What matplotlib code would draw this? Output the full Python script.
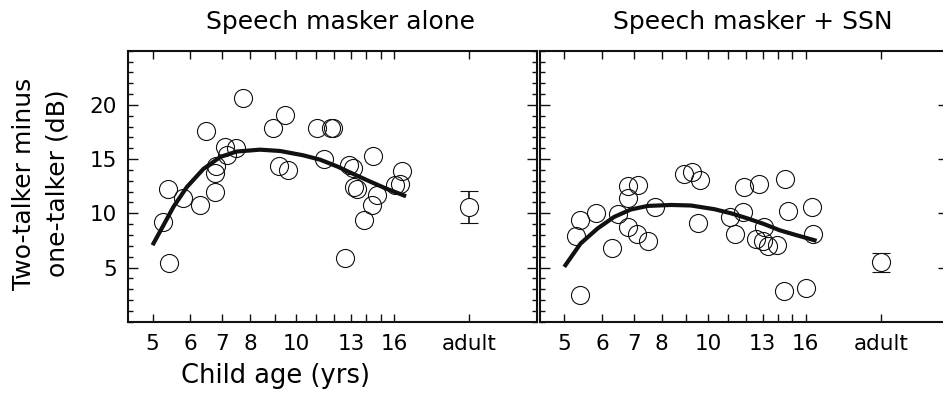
import matplotlib
matplotlib.use("Agg")
import matplotlib.pyplot as plt
from matplotlib.ticker import FixedLocator, NullLocator, MultipleLocator

# child data, speech masker alone
alone_age = [5.27, 5.38, 5.40, 5.80, 6.27, 6.47, 6.76, 6.76, 6.78, 7.10, 7.17,
             7.48, 7.72, 8.91, 9.21, 9.46, 9.61, 11.03, 11.39, 11.80, 11.93,
             12.66, 12.86, 13.12, 13.22, 13.37, 13.87, 14.37, 14.48, 14.72,
             16.07, 16.45, 16.58]
alone_db = [9.2, 12.2, 5.4, 11.4, 10.8, 17.6, 12.0, 13.7, 14.4, 16.1, 15.4,
            16.0, 20.6, 17.9, 14.4, 19.1, 14.0, 17.9, 15.0, 17.9, 17.9,
            5.9, 14.5, 14.2, 12.4, 12.2, 9.4, 10.8, 15.3, 11.7,
            12.6, 12.7, 13.9]

# child data, speech masker + SSN
ssn_age = [5.29, 5.39, 5.40, 5.82, 6.28, 6.48, 6.78, 6.78, 6.78, 7.14, 7.11,
           7.49, 7.74, 8.91, 9.25, 9.60, 9.50, 11.1, 11.4, 11.9, 11.85,
           12.78, 12.6, 13.1, 13.0, 13.35, 13.9, 14.5, 14.7, 14.4,
           16.0, 16.5, 16.6]
ssn_db = [7.9, 9.4, 2.5, 10.0, 6.8, 9.9, 12.5, 11.4, 8.7, 12.6, 8.1,
          7.4, 10.6, 13.6, 13.8, 13.1, 9.1, 9.7, 8.1, 12.4, 10.1,
          12.7, 7.6, 8.7, 7.4, 7.0, 7.1, 13.2, 10.2, 2.8,
          3.1, 10.6, 8.1]

# fitted curves
fit_age = [5.0, 5.27, 5.53, 5.90, 6.39, 6.93, 7.50, 8.39, 9.24, 10.33,
           11.2, 12.2, 13.1, 14.2, 15.4, 16.95]
alone_fit = [7.06, 8.9, 10.6, 12.43, 14.1, 15.2, 15.7, 15.87, 15.75, 15.35,
             14.95, 14.3, 13.66, 12.96, 12.28, 11.57]
ssn_fit_age = [5.0, 5.41, 5.87, 6.36, 6.89, 7.47, 8.37, 9.20, 10.3, 11.2,
               12.1, 13.1, 14.1, 15.3, 16.85]
ssn_fit = [5.06, 7.22, 8.6, 9.67, 10.35, 10.68, 10.77, 10.72, 10.38, 9.98,
           9.52, 9.0, 8.44, 7.98, 7.46]

# adult mean and error
adult_mean = [10.6, 5.5]
adult_err = [1.5, 0.88]

titles = ["Speech masker alone", "Speech masker + SSN"]
age_ticks = [5, 6, 7, 8, 9, 10, 11, 12, 13, 14, 15, 16]
age_labels = ["5", "6", "7", "8", "", "10", "", "", "13", "", "", "16"]
ADULT_X = 23

plt.rcParams['font.family'] = ['DejaVu Sans']

fig = plt.figure(figsize=(9.43, 4.04), dpi=100)
ax1 = fig.add_axes([0.1361, 0.2037, 0.4331, 0.6708])
ax2 = fig.add_axes([0.5727, 0.2037, 0.4331, 0.6708])

panels = [(ax1, alone_age, alone_db, fit_age, alone_fit),
          (ax2, ssn_age, ssn_db, ssn_fit_age, ssn_fit)]

for i, (ax, ages, vals, fx, fy) in enumerate(panels):
    ax.set_xscale('log')
    ax.plot(ages, vals, 'o', ms=13, mfc='none', mec='#111111', mew=0.8, zorder=2)
    ax.plot(fx, fy, color='#111111', lw=3, solid_capstyle='butt', zorder=3)
    ax.errorbar([ADULT_X], [adult_mean[i]], yerr=[adult_err[i]], fmt='o',
                ms=13, mfc='white', mec='#111111', mew=0.8, ecolor='#111111',
                elinewidth=1.2, capsize=6.5, capthick=1.8, zorder=4)

    ax.set_xlim(4.45, 31.8)
    ax.set_ylim(0, 25)
    ticks = age_ticks + [ADULT_X]
    ax.xaxis.set_major_locator(FixedLocator(ticks))
    ax.xaxis.set_minor_locator(NullLocator())
    ax.set_xticklabels(age_labels + ["adult"])
    ax.yaxis.set_major_locator(FixedLocator([5, 10, 15, 20]))
    ax.yaxis.set_minor_locator(MultipleLocator(1))
    ax.tick_params(axis='both', which='both', direction='in', top=True,
                   right=True, width=1.0, color='#111111')
    ax.tick_params(axis='x', which='major', length=6, labelsize=15.5, pad=9)
    ax.tick_params(axis='y', which='major', length=7, labelsize=15.5, pad=8)
    ax.tick_params(axis='y', which='minor', length=3.5)
    for sp in ax.spines.values():
        sp.set_linewidth(1.5)
        sp.set_color('#111111')
    if i == 1:
        ax.set_yticklabels([])

fig.text(340.8 / 943, 1 - 22 / 404, titles[0], ha='center', va='center', fontsize=18)
fig.text(753.3 / 943, 1 - 22 / 404, titles[1], ha='center', va='center', fontsize=18)
fig.text(275.8 / 943, 1 - 376 / 404, "Child age (yrs)", ha='center', va='center', fontsize=18.5)
fig.text(24 / 943, 1 - 184 / 404, "Two-talker minus", rotation=90,
         ha='center', va='center', fontsize=18)
fig.text(57 / 943, 1 - 183 / 404, "one-talker (dB)", rotation=90,
         ha='center', va='center', fontsize=18)

fig.savefig("out.png", dpi=100)
